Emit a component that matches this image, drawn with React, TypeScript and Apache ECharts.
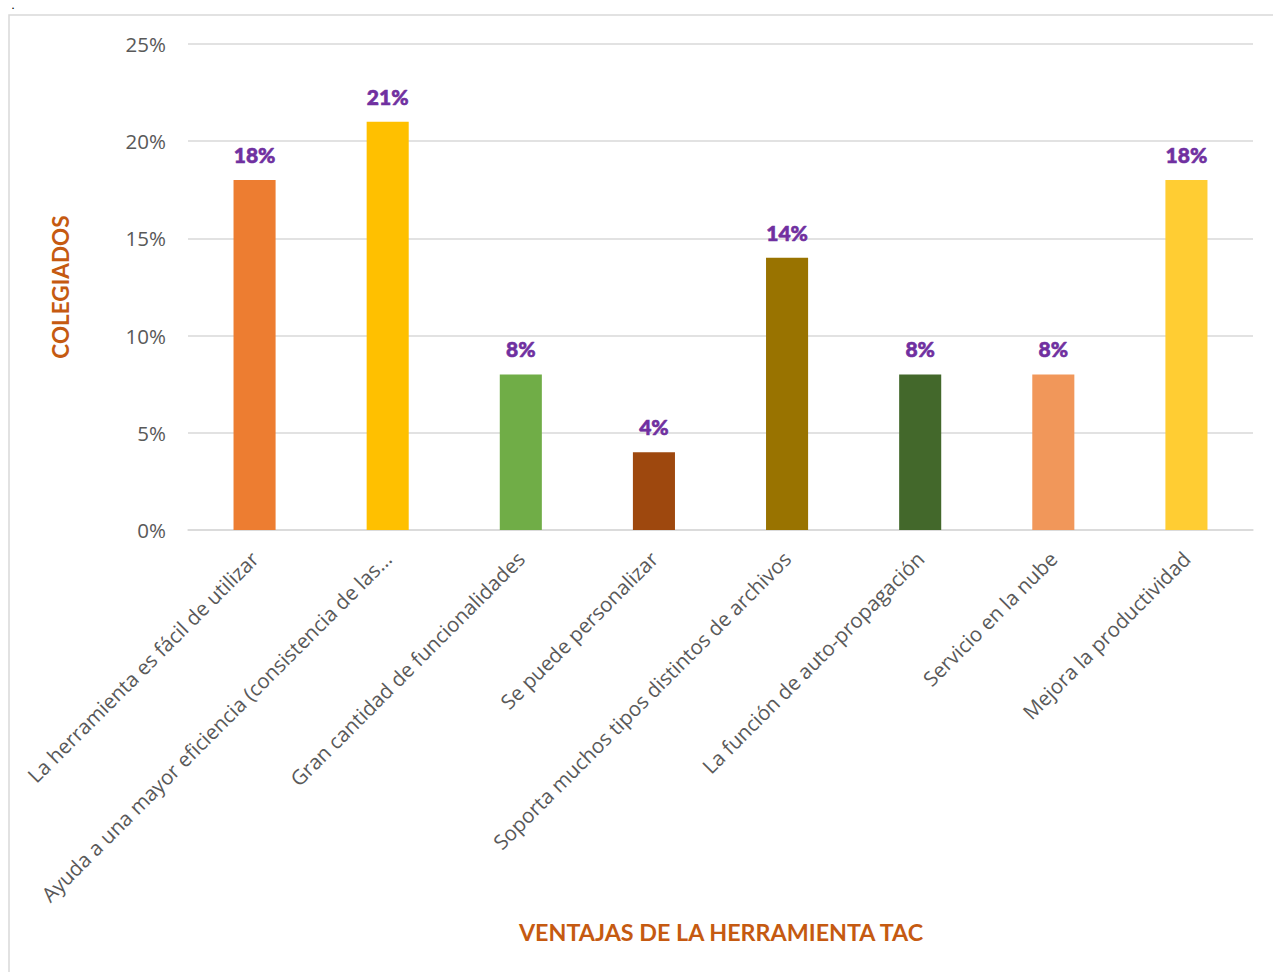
import React, { useEffect, useRef } from "react";
import * as echarts from "echarts";

const categories = [
  "La herramienta es fácil de utilizar",
  "Ayuda a una mayor eficiencia (consistencia de las...",
  "Gran cantidad de funcionalidades",
  "Se puede personalizar",
  "Soporta muchos tipos distintos de archivos",
  "La función de auto-propagación",
  "Servicio en la nube",
  "Mejora la productividad",
];
const values = [18, 21, 8, 4, 14, 8, 8, 18];
const barColors = ["#ED7D31", "#FFC000", "#70AD47", "#9E480E", "#997300", "#43682B", "#F1975A", "#FFCD33"];
const yTicks = { min: 0, max: 25, interval: 5 };
const yTitle = "COLEGIADOS";
const xTitle = "VENTAJAS DE LA HERRAMIENTA TAC";

export default function App() {
  const ref = useRef<HTMLDivElement>(null);
  useEffect(() => {
    document.body.style.margin = "0";
    const chart = echarts.init(ref.current!, null, { renderer: "svg" });
    chart.setOption({
      animation: false,
      backgroundColor: "#ffffff",
      grid: { left: 188, right: 20, top: 44, bottom: 442, containLabel: false },
      xAxis: {
        type: "category",
        data: categories,
        axisLine: { show: true, lineStyle: { color: "#D9D9D9", width: 1.5 } },
        axisTick: { show: false },
        axisLabel: {
          rotate: 45,
          interval: 0,
          margin: 25,
          color: "#595959",
          fontFamily: "Open Sans",
          fontSize: 20.5,
        },
      },
      yAxis: {
        type: "value",
        min: yTicks.min,
        max: yTicks.max,
        interval: yTicks.interval,
        axisLine: { show: false },
        axisTick: { show: false },
        splitLine: { lineStyle: { color: "#D9D9D9", width: 1.5 } },
        axisLabel: {
          formatter: "{value}%",
          color: "#595959",
          fontFamily: "Open Sans",
          fontSize: 20.5,
          margin: 22,
        },
      },
      series: [
        {
          type: "bar",
          barWidth: "31.6%",
          data: values.map((v, i) => ({ value: v, itemStyle: { color: barColors[i] } })),
          label: {
            show: true,
            position: "top",
            distance: 15,
            formatter: "{c}%",
            color: "#7030A0",
            fontFamily: "Lato",
            fontWeight: 900,
            fontSize: 21,
            textBorderColor: "#7030A0",
            textBorderWidth: 0.6,
          },
        },
      ],
      graphic: [
        {
          type: "rect",
          shape: { x: 9, y: 15, width: 1400, height: 1100 },
          style: { fill: "none", stroke: "#D9D9D9", lineWidth: 1.5 },
          silent: true,
        },
        {
          type: "text",
          x: 13,
          y: 1,
          style: { text: ".", fill: "#000", font: "bold 9px 'Open Sans'", textAlign: "center", textVerticalAlign: "top" },
        },
        {
          type: "text",
          x: 60,
          y: 287,
          rotation: Math.PI / 2,
          style: {
            text: yTitle,
            fill: "#C55A11",
            font: "bold 22.5px Lato",
            textAlign: "center",
            textVerticalAlign: "middle",
          },
        },
        {
          type: "text",
          x: 721,
          y: 932,
          style: {
            text: xTitle,
            fill: "#C55A11",
            font: "bold 23.3px Lato",
            textAlign: "center",
            textVerticalAlign: "middle",
          },
        },
      ],
    });
    return () => chart.dispose();
  }, []);
  return <div ref={ref} style={{ width: 1273, height: 972 }} />;
}
